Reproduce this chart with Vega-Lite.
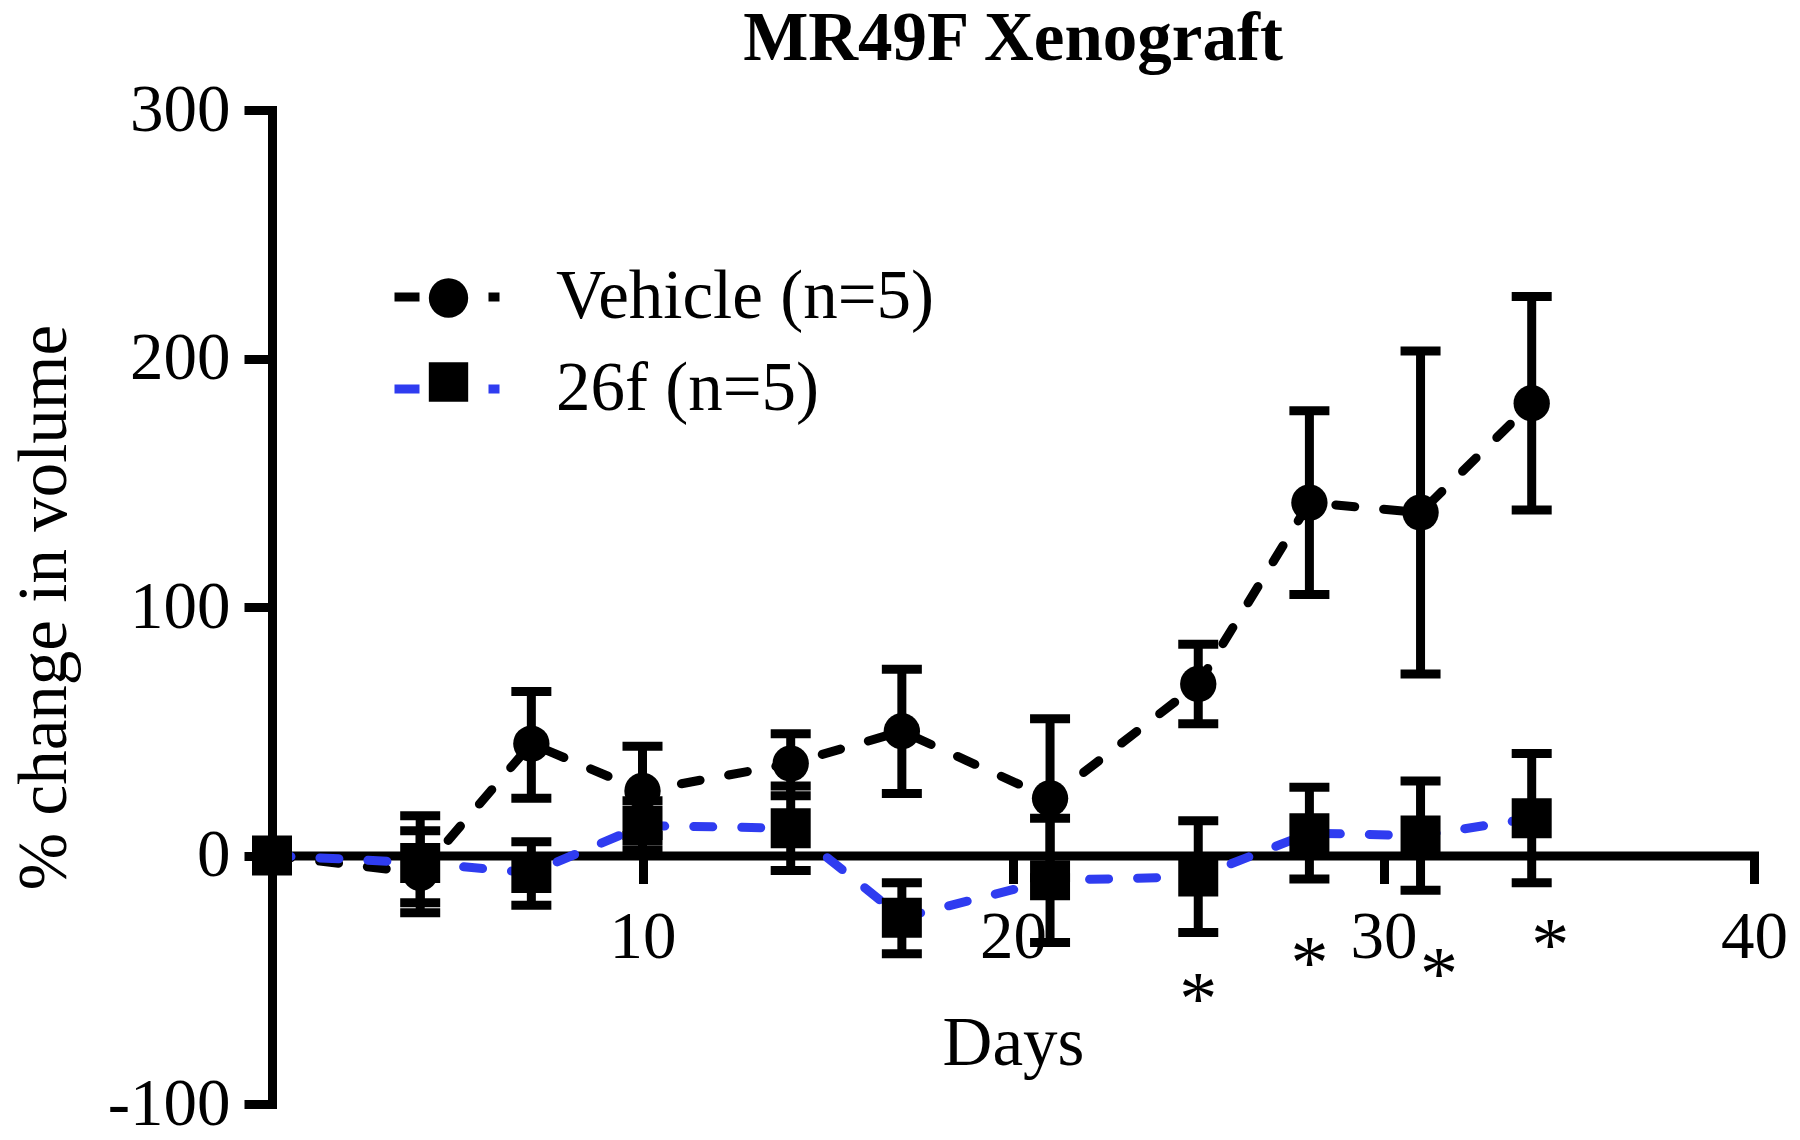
{
  "$schema": "https://vega.github.io/schema/vega-lite/v6.json",
  "width": 1482,
  "height": 994,
  "autosize": {"type": "none"},
  "padding": {"left": 272, "top": 110, "right": 46, "bottom": 36},
  "background": "white",
  "title": {"text": "MR49F Xenograft", "font": "Liberation Serif", "fontSize": 69, "fontWeight": "bold", "color": "black", "anchor": "middle", "offset": 2},
  "config": {
    "view": {"stroke": null},
    "axisX": {"offset": -248.5, "domainColor": "black", "domainWidth": 9, "domainCap": "square", "tickColor": "black", "tickWidth": 9, "tickSize": 28, "labelFont": "Liberation Serif", "labelFontSize": 67, "labelColor": "black", "labelPadding": 21, "labelFlush": false, "labelOverlap": false, "titleFont": "Liberation Serif", "titleFontSize": 69, "titleFontWeight": "normal", "titleColor": "black", "titlePadding": 39, "grid": false},
    "axisY": {"domainColor": "black", "domainWidth": 9, "domainCap": "square", "tickColor": "black", "tickWidth": 9, "tickSize": 28, "labelFont": "Liberation Serif", "labelFontSize": 67, "labelColor": "black", "labelPadding": 14, "labelFlush": false, "labelOverlap": false, "labelExpr": "datum.value < 0 ? '-' + (-datum.value) : '' + datum.value", "titleFont": "Liberation Serif", "titleFontSize": 69, "titleFontWeight": "normal", "titleColor": "black", "titlePadding": 28, "grid": false}
  },
  "datasets": {
    "series": [
      {"group": "Vehicle (n=5)", "day": 0, "mean": 0, "lo": null, "hi": null},
      {"group": "Vehicle (n=5)", "day": 4, "mean": -7, "lo": -23, "hi": 16},
      {"group": "Vehicle (n=5)", "day": 7, "mean": 45, "lo": 23, "hi": 66},
      {"group": "Vehicle (n=5)", "day": 10, "mean": 26, "lo": 8, "hi": 44},
      {"group": "Vehicle (n=5)", "day": 14, "mean": 37, "lo": 24, "hi": 49},
      {"group": "Vehicle (n=5)", "day": 17, "mean": 50, "lo": 25, "hi": 75},
      {"group": "Vehicle (n=5)", "day": 21, "mean": 23, "lo": -9, "hi": 55},
      {"group": "Vehicle (n=5)", "day": 25, "mean": 69, "lo": 53, "hi": 85},
      {"group": "Vehicle (n=5)", "day": 28, "mean": 142, "lo": 105, "hi": 179},
      {"group": "Vehicle (n=5)", "day": 31, "mean": 138, "lo": 73, "hi": 203},
      {"group": "Vehicle (n=5)", "day": 34, "mean": 182, "lo": 139, "hi": 225},
      {"group": "26f (n=5)", "day": 0, "mean": 0, "lo": null, "hi": null},
      {"group": "26f (n=5)", "day": 4, "mean": -3, "lo": -19, "hi": 10},
      {"group": "26f (n=5)", "day": 7, "mean": -7, "lo": -20, "hi": 5.5},
      {"group": "26f (n=5)", "day": 10, "mean": 12, "lo": 2, "hi": 22},
      {"group": "26f (n=5)", "day": 14, "mean": 11, "lo": -6, "hi": 28},
      {"group": "26f (n=5)", "day": 17, "mean": -25, "lo": -39.5, "hi": -11},
      {"group": "26f (n=5)", "day": 21, "mean": -10, "lo": -35, "hi": 15},
      {"group": "26f (n=5)", "day": 25, "mean": -8.5, "lo": -31, "hi": 14},
      {"group": "26f (n=5)", "day": 28, "mean": 9, "lo": -9.5, "hi": 27.5},
      {"group": "26f (n=5)", "day": 31, "mean": 8, "lo": -14, "hi": 30},
      {"group": "26f (n=5)", "day": 34, "mean": 15, "lo": -11, "hi": 41}
    ],
    "stars": [
      {"day": 25, "value": -53},
      {"day": 28, "value": -38.6},
      {"day": 31.5, "value": -42.8},
      {"day": 34.5, "value": -31.2}
    ]
  },
  "layer": [
    {
      "data": {"name": "series"},
      "mark": {"type": "rule", "color": "black", "strokeWidth": 9},
      "encoding": {
        "x": {"field": "day", "type": "quantitative", "scale": {"domain": [0, 40], "nice": false}, "axis": {"values": [10, 20, 30, 40], "title": "Days"}},
        "y": {"field": "lo", "type": "quantitative", "scale": {"domain": [-100, 300], "nice": false}, "axis": {"values": [-100, 0, 100, 200, 300], "title": "% change in volume"}},
        "y2": {"field": "hi"}
      }
    },
    {
      "data": {"name": "series"},
      "mark": {"type": "tick", "orient": "horizontal", "size": 40, "thickness": 9, "color": "black", "opacity": 1},
      "encoding": {
        "x": {"field": "day", "type": "quantitative", "scale": {"domain": [0, 40], "nice": false}, "axis": {"values": [10, 20, 30, 40], "title": "Days"}},
        "y": {"field": "lo", "type": "quantitative", "scale": {"domain": [-100, 300], "nice": false}, "axis": {"values": [-100, 0, 100, 200, 300], "title": "% change in volume"}}
      }
    },
    {
      "data": {"name": "series"},
      "mark": {"type": "tick", "orient": "horizontal", "size": 40, "thickness": 9, "color": "black", "opacity": 1},
      "encoding": {
        "x": {"field": "day", "type": "quantitative", "scale": {"domain": [0, 40], "nice": false}, "axis": {"values": [10, 20, 30, 40], "title": "Days"}},
        "y": {"field": "hi", "type": "quantitative", "scale": {"domain": [-100, 300], "nice": false}, "axis": {"values": [-100, 0, 100, 200, 300], "title": "% change in volume"}}
      }
    },
    {
      "data": {"name": "series"},
      "mark": {"type": "line", "strokeWidth": 9, "strokeDash": [19, 29], "strokeCap": "round"},
      "encoding": {
        "x": {"field": "day", "type": "quantitative", "scale": {"domain": [0, 40], "nice": false}, "axis": {"values": [10, 20, 30, 40], "title": "Days"}},
        "y": {"field": "mean", "type": "quantitative", "scale": {"domain": [-100, 300], "nice": false}, "axis": {"values": [-100, 0, 100, 200, 300], "title": "% change in volume"}},
        "color": {
          "field": "group", "type": "nominal",
          "scale": {"domain": ["Vehicle (n=5)", "26f (n=5)"], "range": ["black", "#2f3cf0"]},
          "legend": {"orient": "none", "legendX": 118, "legendY": 130, "title": null, "padding": 0, "symbolType": "stroke", "symbolSize": 11025, "symbolStrokeWidth": 9, "symbolDash": [25, 22], "symbolOpacity": 1, "labelFont": "Liberation Serif", "labelFontSize": 69, "labelColor": "black", "labelOffset": 52, "labelLimit": 1000, "rowPadding": -12}
        }
      }
    },
    {
      "data": {"name": "series"},
      "mark": {"type": "point", "filled": true, "color": "black", "opacity": 1},
      "encoding": {
        "x": {"field": "day", "type": "quantitative", "scale": {"domain": [0, 40], "nice": false}, "axis": {"values": [10, 20, 30, 40], "title": "Days"}},
        "y": {"field": "mean", "type": "quantitative", "scale": {"domain": [-100, 300], "nice": false}, "axis": {"values": [-100, 0, 100, 200, 300], "title": "% change in volume"}},
        "size": {"field": "group", "type": "nominal", "scale": {"domain": ["26f (n=5)", "Vehicle (n=5)"], "range": [1600, 1320]}, "legend": null},
        "shape": {
          "field": "group", "type": "nominal", "sort": "descending",
          "scale": {"range": ["circle", "square"]},
          "legend": {"orient": "none", "legendX": 143.5, "legendY": 155, "title": null, "padding": 0, "symbolSize": 1550, "symbolFillColor": "black", "symbolStrokeWidth": 0, "symbolOpacity": 1, "labelFont": "Liberation Serif", "labelFontSize": 66, "labelColor": "black", "labelExpr": "''", "labelOffset": 60, "labelLimit": 1000, "rowPadding": 18}
        }
      }
    },
    {
      "data": {"name": "stars"},
      "mark": {"type": "text", "text": "*", "font": "Liberation Serif", "fontSize": 76, "color": "black", "baseline": "middle", "align": "center", "dy": 14},
      "encoding": {
        "x": {"field": "day", "type": "quantitative", "scale": {"domain": [0, 40], "nice": false}, "axis": {"values": [10, 20, 30, 40], "title": "Days"}},
        "y": {"field": "value", "type": "quantitative", "scale": {"domain": [-100, 300], "nice": false}, "axis": {"values": [-100, 0, 100, 200, 300], "title": "% change in volume"}}
      }
    }
  ]
}
